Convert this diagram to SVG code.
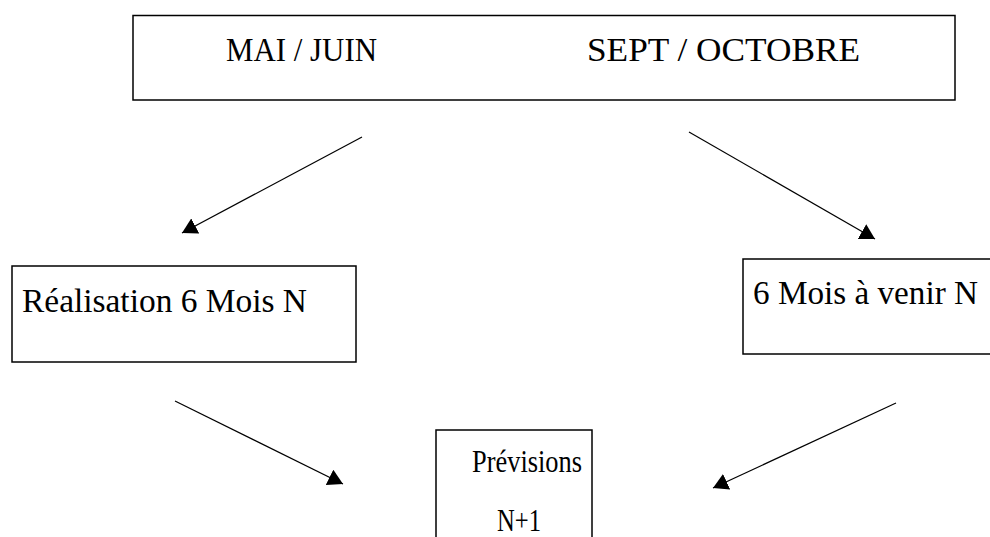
<svg xmlns="http://www.w3.org/2000/svg" width="990" height="537" viewBox="0 0 990 537">
  <style>
    .box { fill: #ffffff; stroke: #000000; stroke-width: 1.5; }
    .lbl { font-family: "Liberation Serif", "Times New Roman", serif; font-size: 33px; fill: #000000; }
    .small { font-size: 31px; }
    .arrow { stroke: #000000; stroke-width: 1.2; fill: none; marker-end: url(#head); }
  </style>
  <defs>
    <marker id="head" viewBox="0 0 15 17" refX="15" refY="8.5" markerWidth="15" markerHeight="17" markerUnits="userSpaceOnUse" orient="auto">
      <path d="M0,0 L15,8.5 L0,17 Z" fill="#000000"/>
    </marker>
  </defs>

  <rect width="990" height="537" fill="#ffffff"/>

  <g id="periodes">
    <rect class="box" x="133" y="15.5" width="822" height="84.5"/>
    <text class="lbl" x="226" y="61" textLength="151" lengthAdjust="spacingAndGlyphs">MAI / JUIN</text>
    <text class="lbl" x="587" y="61" textLength="273" lengthAdjust="spacingAndGlyphs">SEPT / OCTOBRE</text>
  </g>

  <g id="realisation">
    <rect class="box" x="12" y="266" width="344" height="96"/>
    <text class="lbl" x="22" y="312" textLength="285" lengthAdjust="spacingAndGlyphs">Réalisation 6 Mois N</text>
  </g>

  <g id="a-venir">
    <rect class="box" x="743" y="259" width="260" height="95"/>
    <text class="lbl" x="753" y="304" textLength="225" lengthAdjust="spacingAndGlyphs">6 Mois à venir N</text>
  </g>

  <g id="previsions">
    <rect class="box" x="436" y="430" width="156" height="120"/>
    <text class="lbl small" x="472" y="472" textLength="110" lengthAdjust="spacingAndGlyphs">Prévisions</text>
    <text class="lbl small" x="497" y="531" textLength="44" lengthAdjust="spacingAndGlyphs">N+1</text>
  </g>

  <g id="connectors">
    <line class="arrow" x1="362" y1="137" x2="182" y2="233"/>
    <line class="arrow" x1="689" y1="132" x2="875" y2="239"/>
    <line class="arrow" x1="175" y1="401" x2="343" y2="484"/>
    <line class="arrow" x1="896" y1="403" x2="713" y2="488"/>
  </g>
</svg>
